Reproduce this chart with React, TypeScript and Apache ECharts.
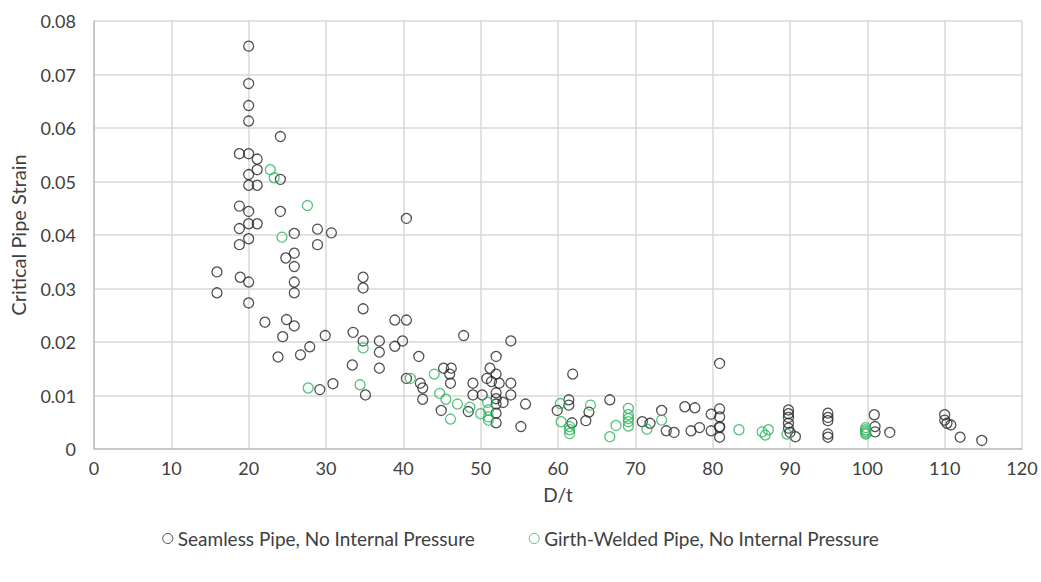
import React, { useEffect, useRef } from "react";
import * as echarts from "echarts";

const xTicks = { min: 0, max: 120, interval: 10 };
const yTicks = { min: 0, max: 0.08, interval: 0.01 };

const seamlessName = "Seamless Pipe, No Internal Pressure";
const girthName = "Girth-Welded Pipe, No Internal Pressure";

const seamlessDt = [
  15.9, 15.9,
  18.8, 18.8, 18.8, 18.8, 18.9,
  20, 20, 20, 20, 20, 20, 20, 20, 20, 20, 20, 20,
  21.1, 21.1, 21.1, 21.1,
  22.1, 23.8,
  24.1, 24.1, 24.1, 24.4,
  24.8, 24.9,
  25.9, 25.9, 25.9, 25.9, 25.9, 25.9,
  26.7, 27.9,
  28.9, 28.9, 29.2,
  29.9, 30.7, 30.9,
  33.5, 33.4,
  34.8, 34.8, 34.8, 34.8, 35.1,
  36.9, 36.9, 36.9,
  38.9, 38.9, 39.9, 40.4, 40.4, 40.4,
  42, 42.2, 42.5, 42.5,
  44.9, 45.2, 46.2, 46, 46.1,
  47.8, 48.4, 49, 49, 50.2,
  50.8, 51.2, 51.4, 52, 52, 52.4, 52, 52, 52, 52, 52,
  52.9, 53.9, 53.9, 53.9, 55.2, 55.8,
  59.9, 61.4, 61.4, 61.9, 61.8,
  63.6, 64, 66.7,
  70.9, 71.9, 73.4, 74, 75,
  76.4, 77.7, 77.2, 78.3,
  79.8, 79.8, 80.9, 80.9, 80.9, 80.9, 80.9, 80.9,
  89.8, 89.8, 89.8, 89.8, 89.8, 90, 90.7,
  94.9, 94.9, 94.9, 94.9, 94.9,
  100.9, 101, 101, 102.9,
  110, 110, 110.3, 110.8, 112, 114.8,
];
const seamlessStrain = [
  0.0331, 0.0292,
  0.0552, 0.0454, 0.0412, 0.0382, 0.0321,
  0.0753, 0.0683, 0.0642, 0.0613, 0.0552, 0.0513, 0.0493, 0.0444, 0.0421, 0.0393, 0.0312, 0.0273,
  0.0542, 0.0522, 0.0493, 0.0421,
  0.0237, 0.0172,
  0.0584, 0.0504, 0.0444, 0.021,
  0.0357, 0.0242,
  0.0403, 0.0366, 0.0341, 0.0312, 0.0292, 0.023,
  0.0176, 0.0191,
  0.0411, 0.0382, 0.0111,
  0.0212, 0.0404, 0.0122,
  0.0218, 0.0157,
  0.0321, 0.0301, 0.0262, 0.0202, 0.0101,
  0.0202, 0.0181, 0.0151,
  0.0241, 0.0192, 0.0202, 0.0241, 0.0431, 0.0132,
  0.0173, 0.0123, 0.0114, 0.0093,
  0.0072, 0.0151, 0.0151, 0.014, 0.0123,
  0.0212, 0.007, 0.0123, 0.0101, 0.0101,
  0.0132, 0.0151, 0.0126, 0.0173, 0.014, 0.0123, 0.0105, 0.0094, 0.0084, 0.0067, 0.0049,
  0.0087, 0.0202, 0.0123, 0.0101, 0.0042, 0.0084,
  0.0072, 0.0092, 0.0082, 0.014, 0.0049,
  0.0053, 0.0069, 0.0092,
  0.0051, 0.0048, 0.0072, 0.0034, 0.0031,
  0.0079, 0.0077, 0.0034, 0.004,
  0.0065, 0.0034, 0.016, 0.0075, 0.006, 0.0042, 0.004, 0.0022,
  0.0073, 0.0066, 0.0059, 0.0048, 0.0039, 0.0031, 0.0023,
  0.0067, 0.0059, 0.0053, 0.0028, 0.0022,
  0.0064, 0.0042, 0.0032, 0.0031,
  0.0064, 0.0054, 0.0048, 0.0045, 0.0022, 0.0016,
];

const girthDt = [
  22.8, 23.3, 27.6, 24.3,
  27.7, 34.4, 34.8,
  40.9, 44, 44.7, 45.5, 46.1, 47,
  48.6, 50, 50.9, 51, 51, 51,
  60.3, 60.4, 61.5, 61.5, 61.5,
  64.2, 66.7, 67.5,
  69.1, 69.1, 69.1, 69.1, 69.1,
  71.5, 73.4, 83.4,
  86.4, 86.8, 87.2, 89.6,
  99.8, 99.8, 99.8, 99.8, 99.8,
];
const girthStrain = [
  0.0522, 0.0507, 0.0455, 0.0396,
  0.0114, 0.012, 0.0189,
  0.0132, 0.014, 0.0104, 0.0093, 0.0056, 0.0084,
  0.0078, 0.0066, 0.0087, 0.0073, 0.006, 0.0054,
  0.0085, 0.0051, 0.0042, 0.0036, 0.0029,
  0.0082, 0.0023, 0.0044,
  0.0076, 0.0064, 0.0057, 0.0051, 0.0043,
  0.0037, 0.0054, 0.0036,
  0.0032, 0.0026, 0.0036, 0.0028,
  0.004, 0.0036, 0.0033, 0.003, 0.0028,
];

const BLACK = "#262626";
const GREEN = "#2cb35c";
const FONT = "Lato";

export default function App() {
  const ref = useRef<HTMLDivElement>(null);
  useEffect(() => {
    if (!ref.current) return;
    const chart = echarts.init(ref.current, undefined, { renderer: "svg" });
    const seamless = seamlessDt.map((x, i) => [x, seamlessStrain[i]]);
    const girth = girthDt.map((x, i) => [x, girthStrain[i]]);
    chart.setOption({
      animation: false,
      textStyle: { fontFamily: FONT },
      grid: { left: 94, right: 19, top: 21, bottom: 133, containLabel: false },
      xAxis: {
        type: "value",
        min: xTicks.min,
        max: xTicks.max,
        interval: xTicks.interval,
        name: "D/t",
        nameLocation: "middle",
        nameGap: 36,
        nameTextStyle: { color: "#404040", fontSize: 19, fontFamily: FONT },
        axisLine: { show: true, lineStyle: { color: "#bfbfbf", width: 1.5 } },
        axisTick: { show: false },
        axisLabel: { color: "#404040", fontSize: 18, margin: 10, fontFamily: FONT },
        splitLine: { show: true, lineStyle: { color: "#d9d9d9", width: 1.5 } },
      },
      yAxis: {
        type: "value",
        min: yTicks.min,
        max: yTicks.max,
        interval: yTicks.interval,
        name: "Critical Pipe Strain",
        nameLocation: "middle",
        nameGap: 66,
        nameTextStyle: { color: "#404040", fontSize: 20, fontFamily: FONT },
        axisLine: { show: true, lineStyle: { color: "#bfbfbf", width: 1.5 } },
        axisTick: { show: false },
        axisLabel: {
          color: "#404040",
          fontSize: 18,
          margin: 18,
          fontFamily: FONT,
          formatter: (v: number) => (v === 0 ? "0" : v.toFixed(2)),
        },
        splitLine: { show: true, lineStyle: { color: "#d9d9d9", width: 1.5 } },
      },
      legend: {
        bottom: 29,
        left: "center",
        itemGap: 54,
        itemWidth: 10,
        itemHeight: 10,
        textStyle: { color: "#404040", fontSize: 19, fontFamily: FONT },
        data: [
          { name: seamlessName, icon: "circle", itemStyle: { color: "#ffffff", borderColor: BLACK, borderWidth: 1 } },
          { name: girthName, icon: "circle", itemStyle: { color: "#ffffff", borderColor: GREEN, borderWidth: 1 } },
        ],
      },
      series: [
        {
          name: seamlessName,
          type: "scatter",
          data: seamless,
          symbol: "circle",
          symbolSize: 10,
          itemStyle: { color: "rgba(255,255,255,0)", borderColor: BLACK, borderWidth: 1.3 },
        },
        {
          name: girthName,
          type: "scatter",
          data: girth,
          symbol: "circle",
          symbolSize: 10,
          itemStyle: { color: "rgba(255,255,255,0)", borderColor: GREEN, borderWidth: 1.3 },
        },
      ],
    });
    return () => chart.dispose();
  }, []);
  return <div ref={ref} style={{ width: 1041, height: 582, position: "absolute", left: 0, top: 0 }} />;
}
